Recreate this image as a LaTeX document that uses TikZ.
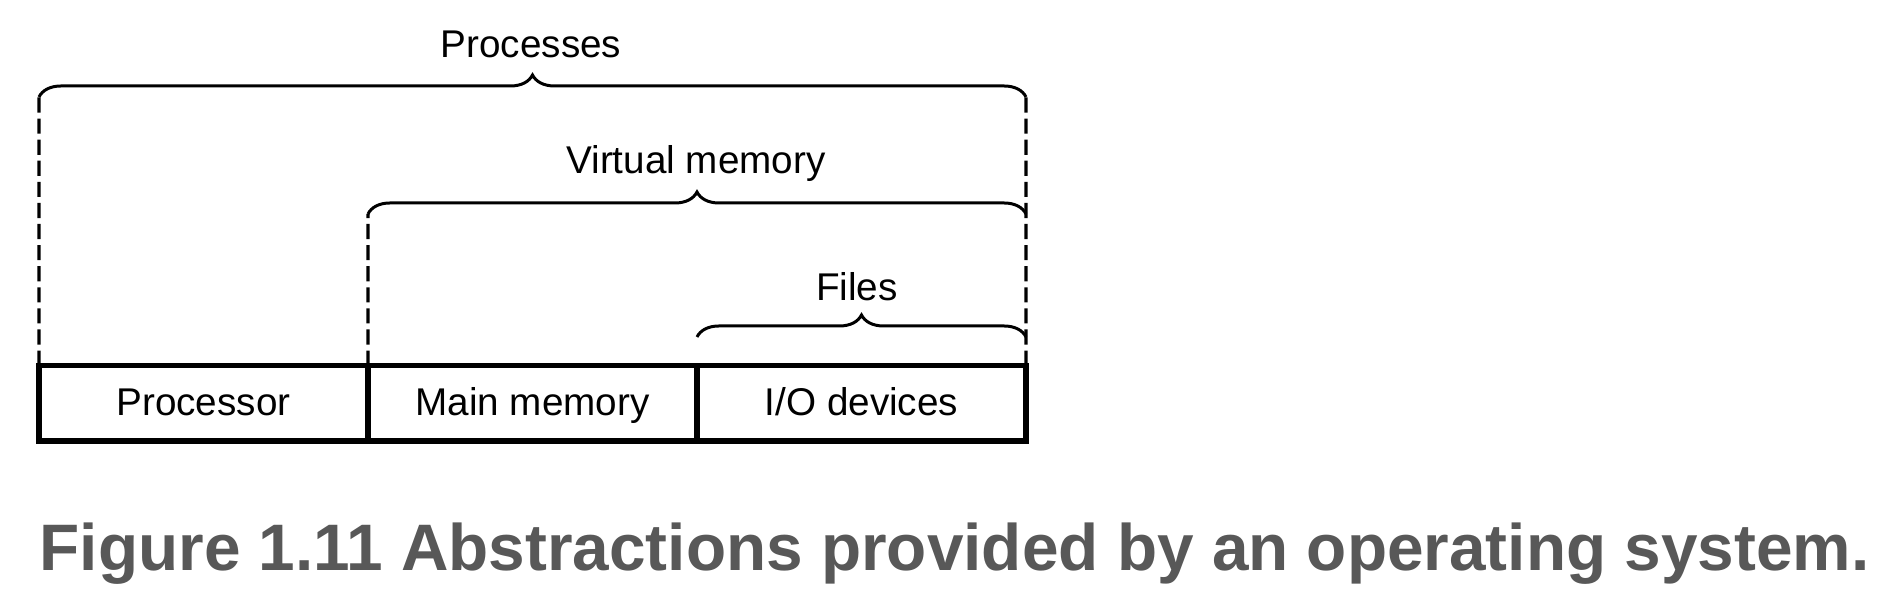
\documentclass[tikz,border=0pt]{standalone}
\usepackage{fontspec}
\setmainfont{Liberation Sans}
\usetikzlibrary{positioning,decorations.pathreplacing}
\definecolor{capgray}{RGB}{88,88,88}
\begin{document}
\begin{tikzpicture}[
		cell/.style={draw,line width=1.5pt,minimum width=3.29cm,minimum height=0.753cm,inner sep=0pt,outer sep=0pt,text height=0.92em,text depth=0.2em,font=\fontsize{11pt}{13pt}\selectfont},
		lbl/.style={anchor=base,inner sep=0pt,font=\fontsize{11pt}{13pt}\selectfont},
		brc/.style={decorate,decoration={brace,amplitude=0.22cm},line width=0.85pt},
		guide/.style={line width=0.9pt,dash pattern=on 4.3pt off 1.7pt}
	]
		\useasboundingbox (0,0) rectangle (19.04,5.90);
		
		\node[cell] (proc) at (2.035,1.867) {Processor};
		\node[cell,right=0pt of proc] (mem) {Main memory};
		\node[cell,right=0pt of mem] (io) {I/O devices};
		
		\coordinate (procL) at (0.39,4.93);
		\coordinate (procR) at (10.26,4.93);
		\coordinate (vmL) at (3.68,3.76);
		\coordinate (vmR) at (10.26,3.76);
		\coordinate (fileL) at (6.97,2.53);
		\coordinate (fileR) at (10.26,2.53);
		
		\draw[guide] (proc.north west) -- (procL);
		\draw[guide] (io.north east) -- (procR);
		\draw[guide] (mem.north west) -- (vmL);
		
		\draw[brc] (procL) -- (procR);
		\draw[brc] (vmL) -- (vmR);
		\draw[brc] (fileL) -- (fileR);
		
		\node[lbl] (procLbl) at (5.31,5.32) {Processes};
		\node[lbl] (vmLbl) at (6.96,4.16) {Virtual memory};
		\node[lbl] (fileLbl) at (8.57,2.89) {Files};
		
		\node[anchor=base west,inner sep=0pt,text=capgray,font=\fontsize{18.7pt}{22pt}\selectfont\bfseries] (cap) at (0.39,0.19) {Figure 1.11 Abstractions provided by an operating system.};
	\end{tikzpicture}
\end{document}
